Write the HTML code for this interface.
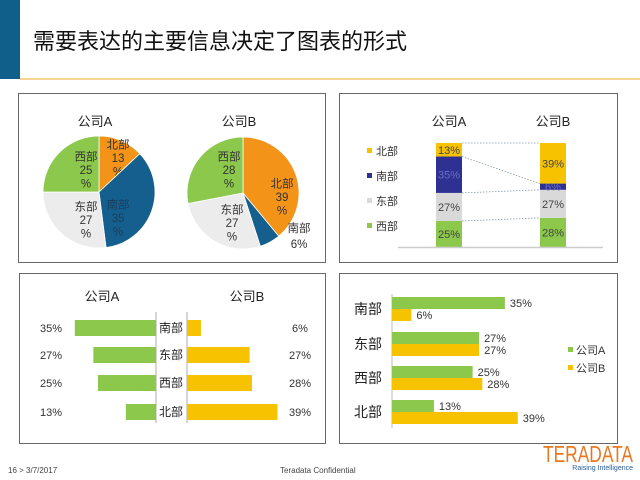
<!DOCTYPE html>
<html><head><meta charset="utf-8"><style>
html,body{margin:0;padding:0;background:#fff;}
svg{display:block;font-family:"Liberation Sans","Noto Sans CJK SC",sans-serif;}
</style></head><body>
<svg id="s" width="640" height="480" xmlns="http://www.w3.org/2000/svg">
<rect x="0" y="0" width="20" height="79" fill="#0f5f8a"/>
<line x1="20" y1="79" x2="640" y2="79" stroke="#f2c76a" stroke-width="1.5"/>
<text x="33" y="49" font-size="22" fill="#111">需要表达的主要信息决定了图表的形式</text>
<rect x="18.5" y="93.5" width="307" height="169" fill="#fff" stroke="#666"/>
<rect x="339.5" y="93.5" width="278" height="169" fill="#fff" stroke="#666"/>
<rect x="19.5" y="273.5" width="306" height="170" fill="#fff" stroke="#666"/>
<rect x="339.5" y="273.5" width="278" height="170" fill="#fff" stroke="#666"/>
<g id="pies"></g>
<g id="stack"></g>
<g id="bfly"></g>
<g id="grp"></g>
<text x="8" y="473" font-size="8" fill="#444">16  &gt;  3/7/2017</text>
<text x="280" y="473" font-size="8" fill="#444">Teradata Confidential</text>
<text x="633" y="462" font-size="23" fill="#e87722" text-anchor="end" textLength="90" lengthAdjust="spacingAndGlyphs">TERADATA</text>
<text x="633" y="470" font-size="7" fill="#2a5d9a" text-anchor="end">Raising Intelligence</text>
</svg>
<script>
const regions = ["北部","南部","东部","西部"];
const companyA = [13,35,27,25];
const companyB = [39,6,27,28];
const companies = ["公司A","公司B"];
// label block offsets from pie centre (layout only)
const pieLabelOffA=[[19,-34],[19,26],[-13,28],[-13,-22]];
const pieLabelOffB=[[39,4],[56,43],[-11,30],[-14,-23]];
const NS="http://www.w3.org/2000/svg";
function mk(p,tag,attrs,txt){const e=document.createElementNS(NS,tag);for(const k in attrs)e.setAttribute(k,attrs[k]);if(txt!==undefined)e.textContent=txt;p.appendChild(e);return e;}
const regColPie={"北部":"#f39318","南部":"#155f8e","东部":"#ececec","西部":"#8cc84b"};
const regColBar={"北部":"#f7c300","南部":"#2e3192","东部":"#d9d9d9","西部":"#8cc84b"};
// Pies
const pies=document.getElementById('pies');
[[companyA,99,192,"公司A",pieLabelOffA],[companyB,243,193,"公司B",pieLabelOffB]].forEach(([vals,cx,cy,name,offs])=>{
  const r=56;const t=mk(pies,'text',{x:cx-4,y:126,'font-size':13,'text-anchor':'middle',fill:'#222'},name);
  
  
  let a=0;const tot=vals.reduce((s,v)=>s+v,0);
  vals.forEach((v,i)=>{
    const a0=a/tot*2*Math.PI,a1=(a+v)/tot*2*Math.PI;a+=v;
    const x0=cx+r*Math.sin(a0),y0=cy-r*Math.cos(a0),x1=cx+r*Math.sin(a1),y1=cy-r*Math.cos(a1);
    const p=mk(pies,'path',{d:`M${cx},${cy}L${x0},${y0}A${r},${r} 0 ${(a1-a0)>Math.PI?1:0} 1 ${x1},${y1}Z`,fill:regColPie[regions[i]],stroke:'#fff','stroke-width':0.8});
    
    
    const small=v<10;
    const lx=cx+offs[i][0],ly=cy+offs[i][1];
    const col=regions[i]==="南部"&&!small?"#1d3c5c":"#333";
    const lines=small?[regions[i],v+"%"]:[regions[i],String(v),"%"];
    const gap=small?16:13.5;
    lines.forEach((s,k)=>{
      const tt=mk(pies,'text',{x:lx,y:ly-(lines.length-1)*gap/2+k*gap+4,'font-size':11.5,'text-anchor':'middle',fill:col},s);
      
      
    });
  });
});
// Stacked
const st=document.getElementById('stack');
const base=247,H=104,bx=[436,540],bw=26;
const order=[3,2,1,0];
const bounds=[];
[companyA,companyB].forEach((vals,ci)=>{
  const tt=mk(st,'text',{x:bx[ci]+bw/2,y:126,'font-size':13,'text-anchor':'middle',fill:'#222'},companies[ci]);
  
  
  let cum=0;const bd=[base];
  order.forEach(i=>{
    const y1=base-(cum+vals[i])/100*H,y0=base-cum/100*H;cum+=vals[i];bd.push(y1);
    const r=mk(st,'rect',{x:bx[ci],y:y1,width:bw,height:y0-y1,fill:regColBar[regions[i]]});
    
    
    const l=mk(st,'text',{x:bx[ci]+bw/2,y:(y0+y1)/2+4,'font-size':11,'text-anchor':'middle',fill:regions[i]==="南部"?"#6a6fc0":"#444"},vals[i]+"%");
    
    
  });
  bounds.push(bd);
});
for(let k=1;k<5;k++){const l=mk(st,'line',{x1:bx[0]+bw,y1:bounds[0][k],x2:bx[1],y2:bounds[1][k],stroke:'#8899aa','stroke-width':0.8,'stroke-dasharray':'1.5,1.5'});
  
  }
const bl=mk(st,'line',{x1:398,y1:base+0.5,x2:603,y2:base+0.5,stroke:'#ccc','stroke-width':1.5});


[0,1,2,3].forEach(i=>{const y=155+i*25;
  const sq=mk(st,'rect',{x:367,y:y-7,width:5,height:5,fill:regColBar[regions[i]]});
  
  
  const t=mk(st,'text',{x:376,y:y,'font-size':11,fill:'#333'},regions[i]);
  
  });
// Butterfly
const bf=document.getElementById('bfly');
const bOrder=["南部","东部","西部","北部"],rowY=[328,355,383,412],sc=2.32;
[[102,"公司A"],[247,"公司B"]].forEach(([x,n])=>{const t=mk(bf,'text',{x:x,y:301,'font-size':13,'text-anchor':'middle',fill:'#222'},n);
  
  });
[156,187].forEach(x=>{const l=mk(bf,'line',{x1:x,y1:312,x2:x,y2:423,stroke:'#999','stroke-width':0.8});
  
  });
bOrder.forEach((reg,k)=>{const i=regions.indexOf(reg);const y=rowY[k];
  const ra=mk(bf,'rect',{x:156-companyA[i]*sc,y:y-8,width:companyA[i]*sc,height:16,fill:'#8cc84b'});
  
  
  const rb=mk(bf,'rect',{x:187,y:y-8,width:companyB[i]*sc,height:16,fill:'#f7c300'});
  
  
  const c=mk(bf,'text',{x:171,y:y+4,'font-size':12,'text-anchor':'middle',fill:'#222'},reg);
  
  
  const la=mk(bf,'text',{x:51,y:y+4,'font-size':11,'text-anchor':'middle',fill:'#333'},companyA[i]+"%");
  
  
  const lb=mk(bf,'text',{x:300,y:y+4,'font-size':11,'text-anchor':'middle',fill:'#333'},companyB[i]+"%");
  
  
});
// Grouped
const g=document.getElementById('grp');
const gx=392,gs=3.225,gY=[309,344,378,412];
const ax=mk(g,'line',{x1:gx,y1:294,x2:gx,y2:428,stroke:'#bbb','stroke-width':1});


bOrder.forEach((reg,k)=>{const i=regions.indexOf(reg);const y=gY[k];
  const c=mk(g,'text',{x:368,y:y+5,'font-size':14,'text-anchor':'middle',fill:'#222'},reg);
  
  
  [[companyA,'#8cc84b',-12],[companyB,'#f7c300',0]].forEach(([vals,col,dy])=>{
    const r=mk(g,'rect',{x:gx,y:y+dy,width:vals[i]*gs,height:12,fill:col});
    
    
    const t=mk(g,'text',{x:gx+vals[i]*gs+5,y:y+dy+10,'font-size':11,fill:'#333'},vals[i]+"%");
    
    
  });
});
[['#8cc84b',354],['#f7c300',372]].forEach(([col,y],k)=>{
  const sq=mk(g,'rect',{x:568,y:y-7,width:5,height:5,fill:col});
  
  
  const t=mk(g,'text',{x:576,y:y,'font-size':11,fill:'#333'},companies[k]);
  
  
});
</script>
</body></html>
